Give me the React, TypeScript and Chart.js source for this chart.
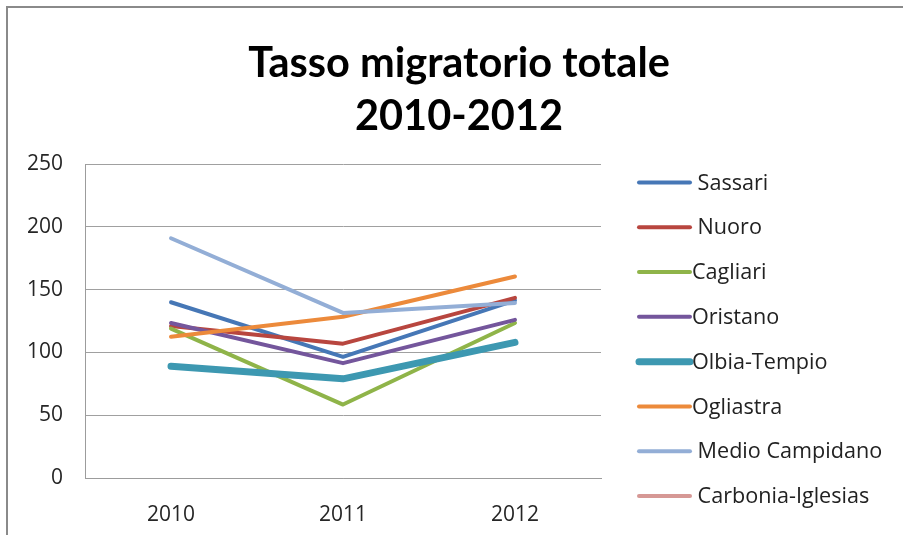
import React, { useEffect, useRef } from 'react';
import { Chart, registerables } from 'chart.js';

Chart.register(...registerables);

const categories = ['2010', '2011', '2012'];
const seriesNames = [
  ' Sassari',
  ' Nuoro',
  'Cagliari',
  'Oristano',
  'Olbia-Tempio',
  'Ogliastra',
  ' Medio Campidano',
  ' Carbonia-Iglesias',
];
const sassari = [140, 96.5, 141.5];
const nuoro = [121, 107, 143.5];
const cagliari = [119, 58.5, 123.5];
const oristano = [123.5, 91.5, 126];
const olbiaTempio = [89, 79, 108];
const ogliastra = [112.5, 128.5, 160.5];
const medioCampidano = [191, 131.5, 139.5];
const carboniaIglesias: (number | null)[] = [null, null, null];

const seriesColors = [
  '#4677B6',
  '#B8463F',
  '#8FB449',
  '#74569C',
  '#3D98B1',
  '#EC8A3B',
  '#93AED6',
  '#D69895',
];
const seriesWidths = [4, 4, 4, 4, 7, 4, 4, 4];
const yTicks = [0, 50, 100, 150, 200, 250];

const TICK_FONT = { family: '"Open Sans", "DejaVu Sans", sans-serif', size: 21 };

const framePlugin = {
  id: 'frame',
  beforeDraw(chart: any) {
    const ctx = chart.ctx;
    ctx.save();
    ctx.fillStyle = '#ffffff';
    ctx.fillRect(0, 0, chart.width, chart.height);
    ctx.strokeStyle = '#8a8a8a';
    ctx.lineWidth = 2;
    ctx.beginPath();
    ctx.moveTo(7, chart.height);
    ctx.lineTo(7, 7);
    ctx.lineTo(chart.width, 7);
    ctx.stroke();
    ctx.restore();
  },
};

const legendPlugin = {
  id: 'customLegend',
  afterDraw(chart: any) {
    const ctx = chart.ctx;
    const area = chart.chartArea;
    ctx.save();
    chart.data.datasets.forEach((ds: any, i: number) => {
      const y = area.top + 18.3 + i * 44.8;
      ctx.strokeStyle = ds.borderColor;
      ctx.lineWidth = ds.borderWidth;
      ctx.lineCap = 'round';
      ctx.beginPath();
      ctx.moveTo(area.right + 38, y);
      ctx.lineTo(area.right + 89, y);
      ctx.stroke();
      ctx.fillStyle = '#222222';
      ctx.font = '21.6px "Open Sans", "DejaVu Sans", sans-serif';
      ctx.textBaseline = 'middle';
      ctx.textAlign = 'left';
      ctx.fillText(ds.label, area.right + 91, y + 1);
    });
    ctx.restore();
  },
};

export default function App() {
  const canvasRef = useRef<HTMLCanvasElement | null>(null);

  useEffect(() => {
    if (!canvasRef.current) return;
    const allData = [
      sassari,
      nuoro,
      cagliari,
      oristano,
      olbiaTempio,
      ogliastra,
      medioCampidano,
      carboniaIglesias,
    ];
    const chart = new Chart(canvasRef.current, {
      type: 'line',
      data: {
        labels: categories,
        datasets: allData.map((d, i) => ({
          label: seriesNames[i],
          data: d,
          borderColor: seriesColors[i],
          backgroundColor: seriesColors[i],
          borderWidth: seriesWidths[i],
          borderCapStyle: 'round',
          borderJoinStyle: 'round',
          pointRadius: 0,
          pointHoverRadius: 0,
          tension: 0,
          fill: false,
          order: allData.length - i,
          yAxisID: 'y',
        })),
      },
      options: {
        responsive: false,
        animation: false,
        devicePixelRatio: 1,
        layout: { padding: { left: 15, right: 0, top: 0, bottom: 0 } },
        plugins: {
          legend: { display: false },
          tooltip: { enabled: false },
          title: {
            display: true,
            text: ['Tasso migratorio totale', '2010-2012'],
            color: '#000000',
            font: {
              family: 'Lato, "Open Sans", sans-serif',
              size: 41.5,
              weight: 'bold',
              lineHeight: 1.255,
            },
            padding: { top: 38, bottom: 22 },
          },
        },
        scales: {
          x: {
            type: 'category',
            offset: true,
            grid: { display: false },
            border: { display: true, color: '#9c9c9c', width: 1 },
            ticks: {
              font: TICK_FONT,
              color: '#262626',
              padding: 16,
              maxRotation: 0,
            },
            afterFit: (s: any) => {
              s.height = 57;
            },
          },
          y: {
            type: 'linear',
            position: 'left',
            min: 0,
            max: 250,
            afterBuildTicks: (s: any) => {
              s.ticks = yTicks.map((v) => ({ value: v }));
            },
            grid: { color: '#a0a0a0', lineWidth: 1, drawTicks: false },
            border: { display: true, color: '#9c9c9c', width: 1 },
            ticks: {
              font: TICK_FONT,
              color: '#262626',
              padding: 22,
            },
            afterFit: (s: any) => {
              s.width = 70;
            },
          },
          legendSpace: {
            type: 'linear',
            position: 'right',
            display: true,
            grid: { display: false, drawTicks: false },
            border: { display: false },
            ticks: { display: false },
            afterFit: (s: any) => {
              s.width = 302;
            },
          },
        },
      },
      plugins: [framePlugin, legendPlugin],
    } as any);
    return () => chart.destroy();
  }, []);

  return (
    <div style={{ position: 'fixed', left: 0, top: 0, width: 903, height: 535, overflow: 'hidden', background: '#fff' }}>
      <canvas ref={canvasRef} width={903} height={535} style={{ display: 'block' }} />
    </div>
  );
}
